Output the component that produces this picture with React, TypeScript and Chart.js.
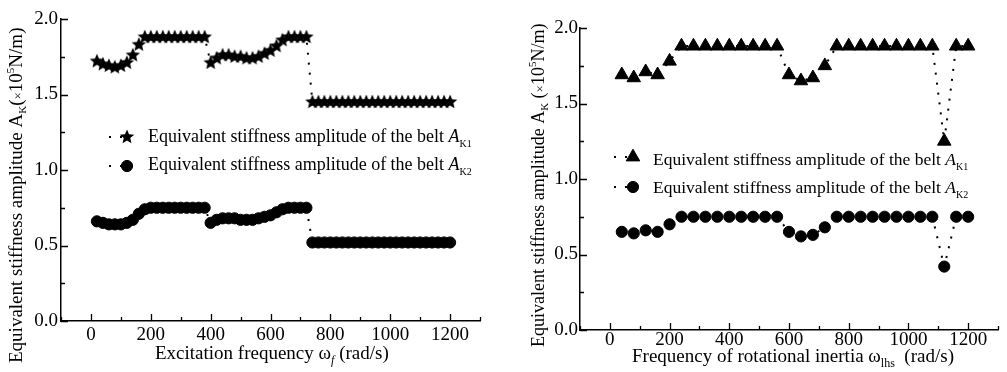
import React, { useEffect, useRef } from "react";
import { Chart, registerables } from "chart.js";

Chart.register(...registerables);

const FONT = '"Liberation Serif", "Times New Roman", serif';

// ---------- data ----------
const excitationFrequency = [
  20, 40, 60, 80, 100, 120, 140, 160, 180, 200, 220, 240, 260, 280, 300, 320, 340, 360, 380,
  400, 420, 440, 460, 480, 500, 520, 540, 560, 580, 600, 620, 640, 660, 680, 700, 720,
  740, 760, 780, 800, 820, 840, 860, 880, 900, 920, 940, 960, 980, 1000, 1020, 1040, 1060,
  1080, 1100, 1120, 1140, 1160, 1180, 1200,
];
const excitationAK1 = [
  1.72, 1.7, 1.69, 1.68, 1.69, 1.71, 1.76, 1.83, 1.88, 1.88, 1.88, 1.88, 1.88, 1.88, 1.88, 1.88, 1.88, 1.88, 1.88,
  1.71, 1.74, 1.76, 1.76, 1.75, 1.75, 1.74, 1.74, 1.75, 1.77, 1.79, 1.82, 1.86, 1.88, 1.88, 1.88, 1.88,
  1.45, 1.45, 1.45, 1.45, 1.45, 1.45, 1.45, 1.45, 1.45, 1.45, 1.45, 1.45, 1.45, 1.45, 1.45, 1.45, 1.45,
  1.45, 1.45, 1.45, 1.45, 1.45, 1.45, 1.45,
];
const excitationAK2 = [
  0.66, 0.65, 0.64, 0.64, 0.64, 0.65, 0.67, 0.71, 0.74, 0.75, 0.75, 0.75, 0.75, 0.75, 0.75, 0.75, 0.75, 0.75, 0.75,
  0.65, 0.67, 0.68, 0.68, 0.68, 0.67, 0.67, 0.67, 0.68, 0.69, 0.7, 0.72, 0.74, 0.75, 0.75, 0.75, 0.75,
  0.52, 0.52, 0.52, 0.52, 0.52, 0.52, 0.52, 0.52, 0.52, 0.52, 0.52, 0.52, 0.52, 0.52, 0.52, 0.52, 0.52,
  0.52, 0.52, 0.52, 0.52, 0.52, 0.52, 0.52,
];

const inertiaFrequency = [
  40, 80, 120, 160, 200, 240, 280, 320, 360, 400, 440, 480, 520, 560, 600,
  640, 680, 720, 760, 800, 840, 880, 920, 960, 1000, 1040, 1080, 1120, 1160, 1200,
];
const inertiaAK1 = [
  1.69, 1.67, 1.71, 1.69, 1.78, 1.88, 1.88, 1.88, 1.88, 1.88, 1.88, 1.88, 1.88, 1.88, 1.69,
  1.65, 1.67, 1.75, 1.88, 1.88, 1.88, 1.88, 1.88, 1.88, 1.88, 1.88, 1.88, 1.25, 1.88, 1.88,
];
const inertiaAK2 = [
  0.65, 0.64, 0.66, 0.65, 0.7, 0.75, 0.75, 0.75, 0.75, 0.75, 0.75, 0.75, 0.75, 0.75, 0.65,
  0.62, 0.63, 0.68, 0.75, 0.75, 0.75, 0.75, 0.75, 0.75, 0.75, 0.75, 0.75, 0.42, 0.75, 0.75,
];

const xTickValues = [0, 200, 400, 600, 800, 1000, 1200];
const xMinorTickValues = [-100, 100, 300, 500, 700, 900, 1100, 1300];
const yTickValues = [0, 0.5, 1.0, 1.5, 2.0];
const yMinorTickValues = [0.25, 0.75, 1.25, 1.75];

const legendText = "Equivalent stiffness amplitude of the belt ";
const legendSymbol = "A";
const legendSub1 = "K1";
const legendSub2 = "K2";
const yTitleMain = "Equivalent stiffness amplitude A";
const yTitleSub = "K";
const leftXTitle = "Excitation frequency \u03c9";
const leftXSub = "f";
const rightXTitle = "Frequency of rotational inertia \u03c9";
const rightXSub = "lhs";
const xTitleUnit = "(rad/s)";

// ---------- helpers ----------
type Seg = { t: string; size: number; italic?: boolean; dy?: number };

function drawRich(ctx: CanvasRenderingContext2D, segs: Seg[], x: number, y: number) {
  let cx = x;
  ctx.textAlign = "left";
  ctx.textBaseline = "alphabetic";
  ctx.fillStyle = "#000";
  for (const s of segs) {
    ctx.font = `${s.italic ? "italic " : ""}${s.size}px ${FONT}`;
    ctx.fillText(s.t, cx, y + (s.dy || 0));
    cx += ctx.measureText(s.t).width;
  }
}

function starPath(ctx: CanvasRenderingContext2D, cx: number, cy: number, R: number, r: number) {
  ctx.beginPath();
  for (let i = 0; i < 10; i++) {
    const a = -Math.PI / 2 + (i * Math.PI) / 5;
    const rad = i % 2 === 0 ? R : r;
    ctx.lineTo(cx + rad * Math.cos(a), cy + rad * Math.sin(a));
  }
  ctx.closePath();
}

function makeStar(R: number) {
  const size = Math.ceil(R * 2) + 2;
  const c = document.createElement("canvas");
  c.width = size;
  c.height = size;
  const g = c.getContext("2d")!;
  g.fillStyle = "#000";
  starPath(g, size / 2, size / 2, R, R * 0.45);
  g.fill();
  return c;
}

const STAR_R = 7.6;
const CIRCLE_R = 5.6;
const TRI_R = 7.8;

function drawMarker(ctx: CanvasRenderingContext2D, kind: string, x: number, y: number) {
  ctx.save();
  ctx.fillStyle = "#000";
  ctx.strokeStyle = "#000";
  ctx.lineWidth = 1;
  if (kind === "star") {
    starPath(ctx, x, y, STAR_R, STAR_R * 0.45);
    ctx.fill();
  } else if (kind === "circle") {
    ctx.beginPath();
    ctx.arc(x, y, CIRCLE_R, 0, Math.PI * 2);
    ctx.fill();
    ctx.stroke();
  } else {
    ctx.beginPath();
    for (let i = 0; i < 3; i++) {
      const a = (i * 2 * Math.PI) / 3;
      ctx.lineTo(x + Math.sin(a) * TRI_R, y - Math.cos(a) * TRI_R);
    }
    ctx.closePath();
    ctx.fill();
    ctx.stroke();
  }
  ctx.restore();
}

type PanelSpec = {
  left: number;
  width: number;
  padTop: number;
  padRight: number;
  yWidth: number;
  xHeight: number;
  yLabelPad: number;
  xLabelPad: number;
  xs: number[];
  s1: number[];
  s2: number[];
  m1: string;
  m2: string;
  yTitle: { x: number; y: number; size: number; gap: string };
  xTitle: { x: number; y: number; text: string; sub: string; italic: boolean; gap: string };
  legend: { dotX: number; markerX: number; textX: number; size: number; rows: { my: number; by: number }[] };
};

const panels: PanelSpec[] = [
  {
    left: 0,
    width: 500,
    padTop: 19,
    padRight: 20,
    yWidth: 61,
    xHeight: 51,
    yLabelPad: 3,
    xLabelPad: 3,
    xs: excitationFrequency,
    s1: excitationAK1,
    s2: excitationAK2,
    m1: "star",
    m2: "circle",
    yTitle: { x: 22, y: 363, size: 19, gap: "" },
    xTitle: { x: 155, y: 359, text: leftXTitle, sub: leftXSub, italic: true, gap: " " },
    legend: { dotX: 110, markerX: 127, textX: 148, size: 18, rows: [{ my: 137, by: 142 }, { my: 166, by: 170 }] },
  },
  {
    left: 500,
    width: 507,
    padTop: 28,
    padRight: 9,
    yWidth: 80,
    xHeight: 42,
    yLabelPad: 2,
    xLabelPad: -1,
    xs: inertiaFrequency,
    s1: inertiaAK1,
    s2: inertiaAK2,
    m1: "triangle",
    m2: "circle",
    yTitle: { x: 44, y: 347, size: 18, gap: " " },
    xTitle: { x: 132, y: 362, text: rightXTitle, sub: rightXSub, italic: false, gap: "  " },
    legend: { dotX: 115, markerX: 133, textX: 153, size: 17.5, rows: [{ my: 157, by: 165 }, { my: 187, by: 193 }] },
  },
];

function Panel({ spec }: { spec: PanelSpec }) {
  const ref = useRef<HTMLCanvasElement>(null);
  useEffect(() => {
    const canvas = ref.current!;
    const star = makeStar(STAR_R);
    const pointOpts = (kind: string) => {
      if (kind === "star") return { pointStyle: star as any, pointRadius: STAR_R, pointBorderWidth: 0 };
      if (kind === "triangle") return { pointStyle: "triangle", pointRadius: TRI_R, pointBorderWidth: 1 };
      return { pointStyle: "circle", pointRadius: CIRCLE_R, pointBorderWidth: 1 };
    };
    const makeDs = (ys: number[], kind: string) => ({
      data: spec.xs.map((x, i) => ({ x, y: ys[i] })),
      showLine: true,
      borderColor: "#000",
      backgroundColor: "#000",
      pointBackgroundColor: "#000",
      pointBorderColor: "#000",
      borderWidth: 2,
      borderDash: [2, 8],
      borderCapStyle: "butt",
      ...pointOpts(kind),
    });

    const decor = {
      id: "decor",
      afterDraw(chart: any) {
        const { ctx, chartArea } = chart;
        const x = chart.scales.x;
        const y = chart.scales.y;
        ctx.save();
        ctx.strokeStyle = "#000";
        ctx.lineWidth = 1.3;
        ctx.beginPath();
        for (const v of xTickValues) {
          const px = Math.round(x.getPixelForValue(v)) + 0.5;
          ctx.moveTo(px, chartArea.bottom);
          ctx.lineTo(px, chartArea.bottom - 7);
        }
        for (const v of xMinorTickValues) {
          const px = Math.round(x.getPixelForValue(v)) + 0.5;
          ctx.moveTo(px, chartArea.bottom);
          ctx.lineTo(px, chartArea.bottom - 4);
        }
        for (const v of yTickValues) {
          const py = Math.round(y.getPixelForValue(v)) + 0.5;
          ctx.moveTo(chartArea.left, py);
          ctx.lineTo(chartArea.left + 7, py);
        }
        for (const v of yMinorTickValues) {
          const py = Math.round(y.getPixelForValue(v)) + 0.5;
          ctx.moveTo(chartArea.left, py);
          ctx.lineTo(chartArea.left + 4, py);
        }
        ctx.stroke();

        // y title (rotated)
        const yt = spec.yTitle;
        ctx.save();
        ctx.translate(yt.x, yt.y);
        ctx.rotate(-Math.PI / 2);
        drawRich(
          ctx,
          [
            { t: yTitleMain, size: yt.size },
            { t: yTitleSub, size: 11, dy: 4 },
            { t: yt.gap + "(", size: yt.size },
            { t: "\u00d7", size: 13 },
            { t: "10", size: yt.size },
            { t: "5", size: 11, dy: -8 },
            { t: "N/m)", size: yt.size },
          ],
          0,
          0
        );
        ctx.restore();

        // x title
        const xt = spec.xTitle;
        drawRich(
          ctx,
          [
            { t: xt.text, size: 19 },
            { t: xt.sub, size: 12, dy: 5, italic: xt.italic },
            { t: xt.gap + xTitleUnit, size: 19 },
          ],
          xt.x,
          xt.y
        );

        // legend
        const lg = spec.legend;
        const kinds = [spec.m1, spec.m2];
        const subs = [legendSub1, legendSub2];
        lg.rows.forEach((row, i) => {
          ctx.save();
          ctx.strokeStyle = "#000";
          ctx.lineWidth = 2;
          ctx.setLineDash([2, 9]);
          ctx.beginPath();
          ctx.moveTo(lg.dotX - 1, row.my);
          ctx.lineTo(lg.markerX, row.my);
          ctx.stroke();
          ctx.restore();
          drawMarker(ctx, kinds[i], lg.markerX, row.my);
          drawRich(
            ctx,
            [
              { t: legendText, size: lg.size },
              { t: legendSymbol, size: lg.size, italic: true },
              { t: subs[i], size: 10, dy: 5 },
            ],
            lg.textX,
            row.by
          );
        });
        ctx.restore();
      },
    };

    const chart = new Chart(canvas, {
      type: "scatter",
      data: { datasets: [makeDs(spec.s1, spec.m1) as any, makeDs(spec.s2, spec.m2) as any] },
      options: {
        animation: false,
        responsive: false,
        events: [],
        layout: { padding: { left: 0, top: spec.padTop, right: spec.padRight, bottom: 0 } },
        plugins: { legend: { display: false }, tooltip: { enabled: false } },
        scales: {
          x: {
            type: "linear",
            min: -100,
            max: 1300,
            afterBuildTicks: (scale: any) => {
              scale.ticks = xTickValues.map((v) => ({ value: v }));
            },
            afterFit: (scale: any) => {
              scale.height = spec.xHeight;
            },
            grid: { display: true, drawOnChartArea: false, drawTicks: false },
            border: { display: true, color: "#000", width: 1.5 },
            ticks: {
              color: "#000",
              font: { family: FONT, size: 19 },
              padding: spec.xLabelPad,
              maxRotation: 0,
              autoSkip: false,
              callback: (v: any) => String(v),
            },
          },
          y: {
            type: "linear",
            min: 0,
            max: 2,
            afterBuildTicks: (scale: any) => {
              scale.ticks = yTickValues.map((v) => ({ value: v }));
            },
            afterFit: (scale: any) => {
              scale.width = spec.yWidth;
            },
            grid: { display: true, drawOnChartArea: false, drawTicks: false },
            border: { display: true, color: "#000", width: 1.5 },
            ticks: {
              color: "#000",
              font: { family: FONT, size: 19 },
              padding: spec.yLabelPad,
              autoSkip: false,
              callback: (v: any) => Number(v).toFixed(1),
            },
          },
        },
      },
      plugins: [decor],
    } as any);
    return () => chart.destroy();
  }, []);
  return (
    <canvas
      ref={ref}
      width={spec.width}
      height={372}
      style={{ position: "absolute", left: spec.left, top: 0, width: spec.width, height: 372, display: "block" }}
    />
  );
}

export default function App() {
  return (
    <div style={{ position: "absolute", left: 0, top: 0, width: 1007, height: 372, background: "#fff", overflow: "hidden" }}>
      {panels.map((p, i) => (
        <Panel key={i} spec={p} />
      ))}
    </div>
  );
}
